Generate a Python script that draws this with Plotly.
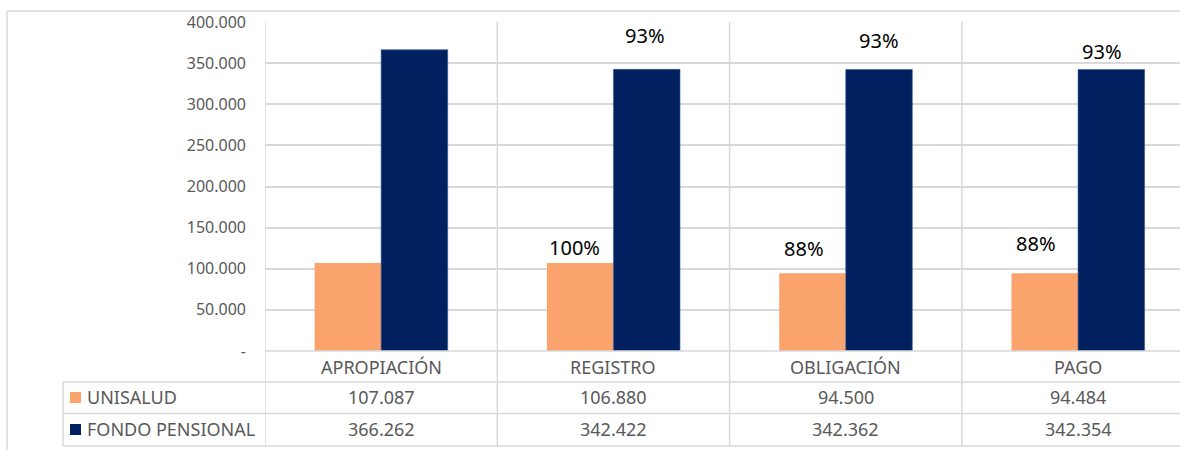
import plotly.graph_objects as go

# data
categories = ["APROPIACIÓN", "REGISTRO", "OBLIGACIÓN", "PAGO"]
series_names = ["UNISALUD", "FONDO PENSIONAL"]
unisalud = [107087, 106880, 94500, 94484]
fondo_pensional = [366262, 342422, 342362, 342354]
unisalud_pct = ["", "100%", "88%", "88%"]
fondo_pct = ["", "93%", "93%", "93%"]
y_ticks = [0, 50000, 100000, 150000, 200000, 250000, 300000, 350000, 400000]

ORANGE = "#FAA36D"
NAVY = "#002060"
GRID = "#D9D9D9"
TXT = "#595959"
FONT = "Noto Sans"

# plot area in pixels (the table sits below it)
L, T, W, H = 265, 22, 915, 329
FIG_W, FIG_H = 1180, 450


def xp(px):
    return (px - L) / W


def yp(py):
    return (T + H - py) / H


def fmt(v):
    return "-" if v == 0 else f"{v:,.0f}".replace(",", ".")


fig = go.Figure()
fig.add_trace(go.Bar(x=categories, y=unisalud, name=series_names[0],
                     marker=dict(color=ORANGE, line=dict(width=0))))
fig.add_trace(go.Bar(x=categories, y=fondo_pensional, name=series_names[1],
                     marker=dict(color=NAVY, line=dict(width=0.6, color="#3A5A99"))))

fig.update_layout(
    width=FIG_W, height=FIG_H,
    margin=dict(l=L, r=FIG_W - L - W, t=T, b=FIG_H - T - H),
    barmode="group", bargap=0.427, bargroupgap=0,
    plot_bgcolor="white", paper_bgcolor="white",
    showlegend=False,
    font=dict(family=FONT, color=TXT),
)
fig.update_xaxes(range=[-0.5, -0.5 + W / 232.3], showticklabels=False,
                 showgrid=False, zeroline=False, showline=False)
fig.update_yaxes(range=[0, 400000], tickvals=y_ticks, ticktext=[fmt(v) for v in y_ticks],
                 showgrid=True, gridcolor=GRID, gridwidth=1.5, zeroline=False,
                 showline=False, ticks="", ticklabelstandoff=18,
                 tickfont=dict(size=16, color=TXT, family=FONT))

shapes = []
line = dict(color=GRID, width=1.5)
# category dividers, running down through the table
for b in [-0.5, 0.5, 1.5, 2.5]:
    shapes.append(dict(type="line", xref="x", yref="paper", x0=b, x1=b,
                       y0=yp(446), y1=1, line=line))
# table rows
shapes.append(dict(type="line", xref="paper", yref="paper", x0=0, x1=1,
                   y0=yp(351), y1=yp(351), line=line))
for py in [382, 413.5, 446]:
    shapes.append(dict(type="line", xref="paper", yref="paper", x0=xp(63), x1=1,
                       y0=yp(py), y1=yp(py), line=line))
shapes.append(dict(type="line", xref="paper", yref="paper", x0=xp(63), x1=xp(63),
                   y0=yp(446), y1=yp(382), line=line))
# outer chart frame
shapes.append(dict(type="line", xref="paper", yref="paper", x0=xp(7), x1=1,
                   y0=yp(11), y1=yp(11), line=line))
shapes.append(dict(type="line", xref="paper", yref="paper", x0=xp(7), x1=xp(7),
                   y0=yp(452), y1=yp(11), line=line))
# legend keys in the table
for cy, col in [(397.5, ORANGE), (429.5, NAVY)]:
    shapes.append(dict(type="rect", xref="paper", yref="paper", x0=xp(70), x1=xp(81),
                       y0=yp(cy + 5.5), y1=yp(cy - 5.5), fillcolor=col, line=dict(width=0)))
fig.update_layout(shapes=shapes)

ann = []
# category labels row
for c in categories:
    ann.append(dict(x=c, xref="x", y=yp(366.5), yref="paper", text=c, showarrow=False,
                    xanchor="center", yanchor="middle",
                    font=dict(size=18, color=TXT, family=FONT)))
# table values rows
for name, vals, cy in [(series_names[0], unisalud, 397.5), (series_names[1], fondo_pensional, 429.5)]:
    ann.append(dict(x=xp(85), xref="paper", y=yp(cy), yref="paper", text=name,
                    xanchor="left", yanchor="middle", showarrow=False,
                    font=dict(size=18, color=TXT, family=FONT)))
    for c, v in zip(categories, vals):
        ann.append(dict(x=c, xref="x", y=yp(cy), yref="paper", text=fmt(v), showarrow=False,
                        xanchor="center", yanchor="middle",
                        font=dict(size=18, color=TXT, family=FONT)))

# percentage labels above bars (offsets in px: dx, dy)
uni_off = [(0, 0), (-6, 16), (-9, 25), (-9, 30)]
fon_off = [(0, 0), (-1, 34), (0, 29), (-9, 18)]
for c, v, t, (dx, dy) in zip(categories, unisalud, unisalud_pct, uni_off):
    if t:
        ann.append(dict(x=c, xref="x", y=v, yref="y", text=t, showarrow=False,
                        xanchor="center", yanchor="middle",
                        xshift=-33 + dx, yshift=dy, font=dict(size=20, color="black", family=FONT)))
for c, v, t, (dx, dy) in zip(categories, fondo_pensional, fondo_pct, fon_off):
    if t:
        ann.append(dict(x=c, xref="x", y=v, yref="y", text=t, showarrow=False,
                        xanchor="center", yanchor="middle",
                        xshift=33 + dx, yshift=dy, font=dict(size=20, color="black", family=FONT)))
fig.update_layout(annotations=ann)

fig.write_html("out.html", config={"displayModeBar": False},
               post_script="document.body.style.margin='0';")
